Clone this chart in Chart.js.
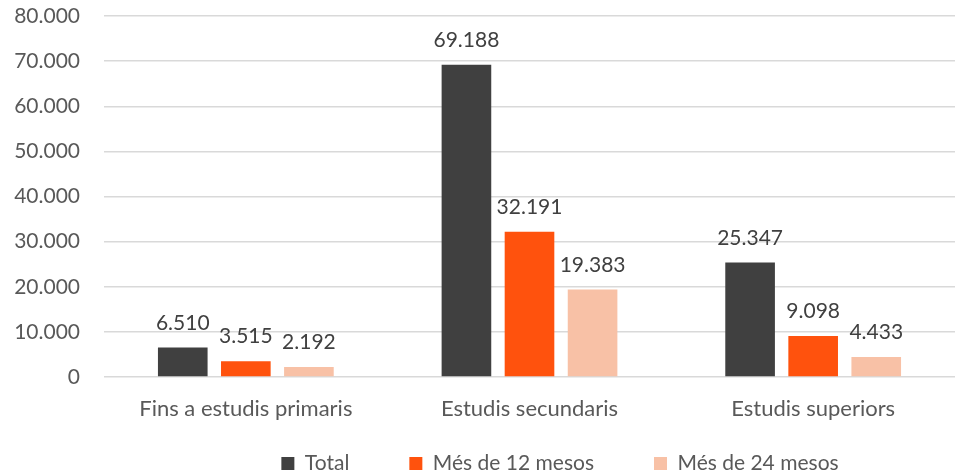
<!DOCTYPE html>
<html><head><meta charset="utf-8">
<script src="https://cdn.jsdelivr.net/npm/chart.js@4/dist/chart.umd.min.js"></script>
<style>html,body{margin:0;padding:0;background:#fff}#wrap{width:955px;height:474px}</style>
</head><body><div id="wrap"><canvas id="c" width="955" height="474"></canvas></div>
<script>
const categories = ["Fins a estudis primaris", "Estudis secundaris", "Estudis superiors"];
const seriesNames = ["Total", "Més de 12 mesos", "Més de 24 mesos"];
const totalValues = [6510, 69188, 25347];
const mes12Values = [3515, 32191, 9098];
const mes24Values = [2192, 19383, 4433];
const colors = ["#404040", "#FF520D", "#F8C1A6"];

function fmt(v){ return String(Math.round(v)).replace(/\B(?=(\d{3})+(?!\d))/g, "."); }

const FONT = "Lato, 'Open Sans', sans-serif";
const labelPlugin = {
  id: "valueLabels",
  afterLayout(chart){
    const lg = chart.legend;
    if (lg) { lg.left += 80; lg.right += 80; }
  },
  afterDatasetsDraw(chart){
    const ctx = chart.ctx;
    ctx.save();
    ctx.font = "21px " + FONT;
    ctx.fillStyle = "#404040";
    ctx.textAlign = "center";
    ctx.textBaseline = "alphabetic";
    chart.data.datasets.forEach((ds, i) => {
      chart.getDatasetMeta(i).data.forEach((el, j) => {
        ctx.fillText(fmt(ds.data[j]), el.x, el.y - 18);
      });
    });
    ctx.restore();
  }
};

new Chart(document.getElementById("c"), {
  type: "bar",
  data: {
    labels: categories,
    datasets: [
      { label: seriesNames[0], data: totalValues, backgroundColor: colors[0] },
      { label: seriesNames[1], data: mes12Values, backgroundColor: colors[1] },
      { label: seriesNames[2], data: mes24Values, backgroundColor: colors[2] }
    ]
  },
  options: {
    responsive: false,
    animation: false,
    layout: { padding: { top: 0, right: -5, left: 0, bottom: -10 } },
    datasets: { bar: { categoryPercentage: 0.667, barPercentage: 0.787 } },
    scales: {
      x: {
        grid: { display: false, drawTicks: false },
        border: { display: false },
        ticks: { color: "#595959", font: { size: 22, family: FONT }, padding: 19 },
        afterFit(s){ s.height = 16; s._computeLabelArea = function(){ return undefined; }; }
      },
      y: {
        min: 0, max: 80000,
        ticks: { stepSize: 10000, color: "#595959", font: { size: 21, family: FONT }, padding: 24, callback: v => fmt(v) },
        grid: { color: "#D9D9D9", lineWidth: 1.5, drawTicks: false },
        border: { display: false },
        afterFit(s){ s.width = 104; s.paddingTop = 16; s.paddingBottom = 0; }
      }
    },
    plugins: {
      legend: {
        position: "bottom",
        labels: { color: "#595959", font: { size: 21, family: FONT }, boxWidth: 13, boxHeight: 13, padding: 60 }
      },
      tooltip: { enabled: false }
    }
  },
  plugins: [labelPlugin]
});
</script></body></html>
